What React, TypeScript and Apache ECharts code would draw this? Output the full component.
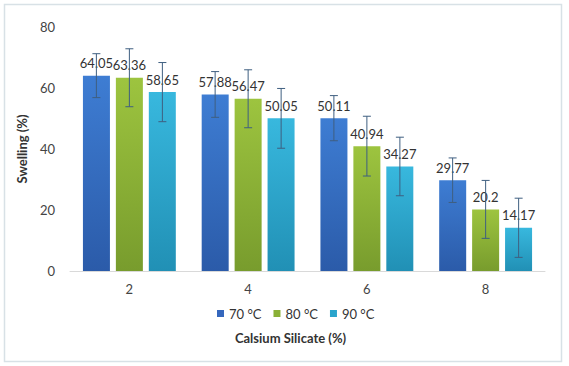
import React, { useEffect, useRef } from "react";
import * as echarts from "echarts";

const categories = ["2", "4", "6", "8"];
const seriesNames = ["70 °C", "80 °C", "90 °C"];
const values70 = [64.05, 57.88, 50.11, 29.77];
const values80 = [63.36, 56.47, 40.94, 20.2];
const values90 = [58.65, 50.05, 34.27, 14.17];
const err70 = [7.2, 7.5, 7.4, 7.3];
const err80 = [9.5, 9.5, 9.8, 9.5];
const err90 = [9.7, 9.8, 9.6, 9.7];

const FONT = "Lato, 'Noto Sans', sans-serif";
const BAR_W = 27;
const GAP = 6;

function grad(top: string, bottom: string) {
  return new echarts.graphic.LinearGradient(0, 0, 0, 1, [
    { offset: 0, color: top },
    { offset: 1, color: bottom },
  ]);
}

export default function App() {
  const ref = useRef<HTMLDivElement>(null);
  useEffect(() => {
    if (!ref.current) return;
    const chart = echarts.init(ref.current, undefined, { renderer: "svg" });
    const values = [values70, values80, values90];
    const errs = [err70, err80, err90];
    const colors = [
      grad("#3e7dd3", "#2b5ba9"),
      grad("#9dc43f", "#789c2d"),
      grad("#38b8de", "#2190b5"),
    ];
    const legendColors = ["#3567bd", "#8ab036", "#2aa4cc"];

    const barSeries = values.map((v, i) => ({
      name: seriesNames[i],
      type: "bar",
      data: v,
      barWidth: BAR_W,
      barGap: "22%",
      itemStyle: { color: colors[i] },
      label: {
        show: true,
        position: "top",
        distance: 6,
        color: "#333",
        fontSize: 13,
        fontFamily: FONT,
      },
      z: 2,
    }));

    const errSeries = values.map((v, i) => ({
      type: "custom",
      name: "err" + i,
      data: v.map((val, k) => [k, val - errs[i][k], val + errs[i][k]]),
      z: 5,
      silent: true,
      renderItem: (params: any, api: any) => {
        const k = api.value(0);
        const lo = api.coord([k, api.value(1)]);
        const hi = api.coord([k, api.value(2)]);
        const x = lo[0] + (i - 1) * (BAR_W + GAP);
        const cap = 4;
        const style = { stroke: "#3f5f80", lineWidth: 1 };
        return {
          type: "group",
          children: [
            { type: "line", shape: { x1: x, y1: lo[1], x2: x, y2: hi[1] }, style },
            { type: "line", shape: { x1: x - cap, y1: lo[1], x2: x + cap, y2: lo[1] }, style },
            { type: "line", shape: { x1: x - cap, y1: hi[1], x2: x + cap, y2: hi[1] }, style },
          ],
        };
      },
    }));

    chart.setOption({
      animation: false,
      backgroundColor: "#ffffff",
      textStyle: { fontFamily: FONT },
      graphic: [
        {
          type: "rect",
          shape: { x: 4.5, y: 4.5, width: 557, height: 357 },
          style: { fill: "none", stroke: "#d8e1e6", lineWidth: 1.5 },
          z: -1,
        },
      ],
      grid: { left: 70, right: 24, top: 27, bottom: 95, containLabel: false },
      legend: {
        data: seriesNames.map((n, i) => ({ name: n, itemStyle: { color: legendColors[i] } })),
        bottom: 41,
        left: 212,
        itemWidth: 7,
        itemHeight: 7,
        itemGap: 12,
        icon: "rect",
        textStyle: { fontSize: 13, color: "#333", fontFamily: FONT },
      },
      xAxis: {
        type: "category",
        data: categories,
        name: "Calsium Silicate (%)",
        nameLocation: "middle",
        nameGap: 60,
        nameTextStyle: {
          fontSize: 13,
          fontWeight: "bold",
          color: "#333",
          fontFamily: FONT,
          padding: [0, 34, 0, 0],
        },
        axisLine: { lineStyle: { color: "#d9d9d9" } },
        axisTick: { show: false },
        axisLabel: { fontSize: 13, color: "#444", margin: 11, fontFamily: FONT },
      },
      yAxis: {
        type: "value",
        min: 0,
        max: 80,
        interval: 20,
        name: "Swelling (%)",
        nameLocation: "middle",
        nameGap: 42,
        nameTextStyle: { fontSize: 13, fontWeight: "bold", color: "#333", fontFamily: FONT },
        axisLine: { show: false },
        axisTick: { show: false },
        splitLine: { show: false },
        axisLabel: { fontSize: 13, color: "#444", margin: 15, fontFamily: FONT },
      },
      series: [...barSeries, ...errSeries],
    });
    return () => chart.dispose();
  }, []);
  return (
    <div
      ref={ref}
      style={{ position: "fixed", left: 0, top: 0, width: 569, height: 366 }}
    />
  );
}
